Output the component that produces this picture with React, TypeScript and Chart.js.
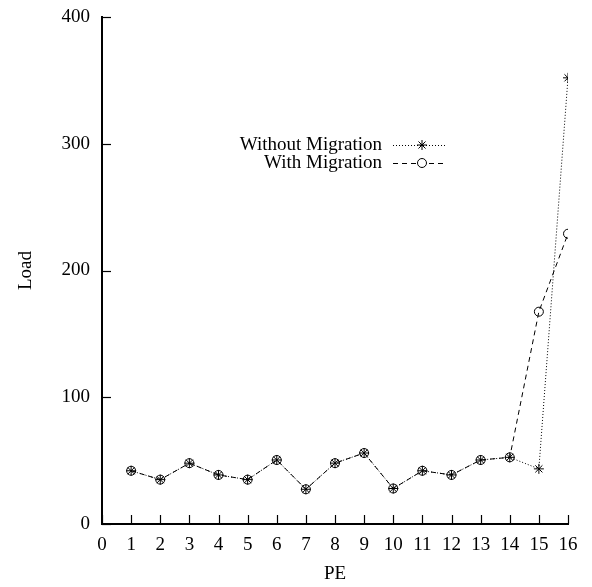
import React, { useEffect, useRef } from 'react';
import { Chart, registerables } from 'chart.js';

Chart.register(...registerables);

// ---- data ----
const peValues = [1, 2, 3, 4, 5, 6, 7, 8, 9, 10, 11, 12, 13, 14, 15, 16];
const withoutMigration = [42, 35, 48, 38.7, 35, 50.5, 27.4, 48, 56, 28, 42, 38.7, 50.5, 52.6, 43.5, 352];
const withMigration = [42, 35, 48, 38.7, 35, 50.5, 27.4, 48, 56, 28, 42, 38.7, 50.5, 52.6, 167.5, 229];
const seriesNames = ['Without Migration', 'With Migration'];
const xAxisTitle = 'PE';
const yAxisTitle = 'Load';
const xMin = 0;
const xMax = 16;
const yMin = 0;
const yMax = 400;

const FONT = '"Liberation Serif", "Times New Roman", serif';
const FONT_SIZE = 19;

function drawStar(ctx: CanvasRenderingContext2D, x: number, y: number, r: number) {
  ctx.beginPath();
  for (let i = 0; i < 4; i++) {
    const a = (i * Math.PI) / 4;
    ctx.moveTo(x - Math.cos(a) * r, y - Math.sin(a) * r);
    ctx.lineTo(x + Math.cos(a) * r, y + Math.sin(a) * r);
  }
  ctx.stroke();
}

export default function App() {
  const ref = useRef<HTMLCanvasElement>(null);

  useEffect(() => {
    const canvas = ref.current;
    if (!canvas) return;

    const innerTicks = {
      id: 'innerTicks',
      afterDraw(chart: any) {
        const { ctx, chartArea, scales } = chart;
        ctx.save();
        ctx.strokeStyle = '#000';
        ctx.lineWidth = 1.2;
        scales.x.ticks.forEach((t: any) => {
          const px = Math.round(scales.x.getPixelForValue(t.value)) + 0.5;
          ctx.beginPath();
          ctx.moveTo(px, chartArea.bottom);
          ctx.lineTo(px, chartArea.bottom - 9);
          ctx.stroke();
        });
        scales.y.ticks.forEach((t: any) => {
          const py = Math.round(scales.y.getPixelForValue(t.value)) + 0.5;
          ctx.beginPath();
          ctx.moveTo(chartArea.left, py);
          ctx.lineTo(chartArea.left + 9, py);
          ctx.stroke();
        });
        ctx.restore();
      },
    };

    const customLegend = {
      id: 'customLegend',
      afterDraw(chart: any) {
        const { ctx, chartArea } = chart;
        const textRight = chartArea.left + 280;
        const lineStart = chartArea.left + 291;
        const lineEnd = chartArea.left + 345;
        const markX = chartArea.left + 320;
        const rows = [chartArea.top + 128, chartArea.top + 146];
        ctx.save();
        ctx.font = `${FONT_SIZE}px ${FONT}`;
        ctx.textAlign = 'right';
        ctx.textBaseline = 'middle';
        chart.data.datasets.forEach((ds: any, i: number) => {
          const y = rows[i];
          ctx.fillStyle = '#000';
          ctx.fillText(ds.label, textRight, y);
          ctx.strokeStyle = '#000';
          ctx.lineWidth = 1;
          ctx.setLineDash(ds.borderDash || []);
          ctx.beginPath();
          ctx.moveTo(lineStart, y + 0.5);
          ctx.lineTo(lineEnd, y + 0.5);
          ctx.stroke();
          ctx.setLineDash([]);
          if (ds.pointStyle === 'star') {
            drawStar(ctx, markX, y, 5);
          } else {
            ctx.fillStyle = '#fff';
            ctx.beginPath();
            ctx.arc(markX, y, 4.5, 0, Math.PI * 2);
            ctx.fill();
            ctx.stroke();
          }
        });
        ctx.restore();
      },
    };

    const chart = new Chart(canvas, {
      type: 'line',
      data: {
        datasets: [
          {
            label: seriesNames[0],
            data: peValues.map((x, i) => ({ x, y: withoutMigration[i] })),
            borderColor: '#000',
            borderWidth: 1,
            borderDash: [1, 2],
            pointStyle: 'star',
            pointRadius: 5,
            pointHoverRadius: 5,
            pointBorderWidth: 1,
            pointBorderColor: '#000',
            pointBackgroundColor: '#000',
            fill: false,
            tension: 0,
          },
          {
            label: seriesNames[1],
            data: peValues.map((x, i) => ({ x, y: withMigration[i] })),
            borderColor: '#000',
            borderWidth: 1,
            borderDash: [5, 4],
            pointStyle: 'circle',
            pointRadius: 4.5,
            pointHoverRadius: 4.5,
            pointBorderWidth: 1,
            pointBorderColor: '#000',
            pointBackgroundColor: 'rgba(0,0,0,0)',
            fill: false,
            tension: 0,
          },
        ],
      },
      options: {
        responsive: false,
        animation: false,
        devicePixelRatio: 1,
        layout: { autoPadding: false, padding: { left: 0, top: 17, right: 24, bottom: 0 } },
        plugins: {
          legend: { display: false },
          tooltip: { enabled: false },
        },
        scales: {
          x: {
            type: 'linear',
            min: xMin,
            max: xMax,
            grid: { display: false, drawTicks: false },
            border: { display: true, color: '#000', width: 2 },
            ticks: {
              stepSize: 1,
              autoSkip: false,
              maxRotation: 0,
              padding: 10,
              color: '#000',
              font: { family: FONT, size: FONT_SIZE },
            },
            title: {
              display: true,
              text: xAxisTitle,
              color: '#000',
              font: { family: FONT, size: FONT_SIZE },
              padding: { top: 0, bottom: 2 },
            },
            afterFit(scale: any) {
              scale.height = 63;
            },
          },
          y: {
            type: 'linear',
            min: yMin,
            max: yMax,
            grid: { display: false, drawTicks: false },
            border: { display: true, color: '#000', width: 2 },
            ticks: {
              stepSize: 100,
              padding: 12,
              color: '#000',
              font: { family: FONT, size: FONT_SIZE },
            },
            title: {
              display: true,
              text: yAxisTitle,
              color: '#000',
              font: { family: FONT, size: FONT_SIZE },
              padding: { top: 15, bottom: 0 },
            },
            afterFit(scale: any) {
              scale.width = 102;
              scale.paddingTop = 0;
              scale.paddingBottom = 0;
            },
          },
        },
      } as any,
      plugins: [innerTicks, customLegend],
    });

    return () => chart.destroy();
  }, []);

  return (
    <div style={{ position: 'absolute', left: 0, top: 0, width: 592, height: 587, background: '#fff' }}>
      <canvas ref={ref} width={592} height={587} style={{ display: 'block' }} />
    </div>
  );
}
